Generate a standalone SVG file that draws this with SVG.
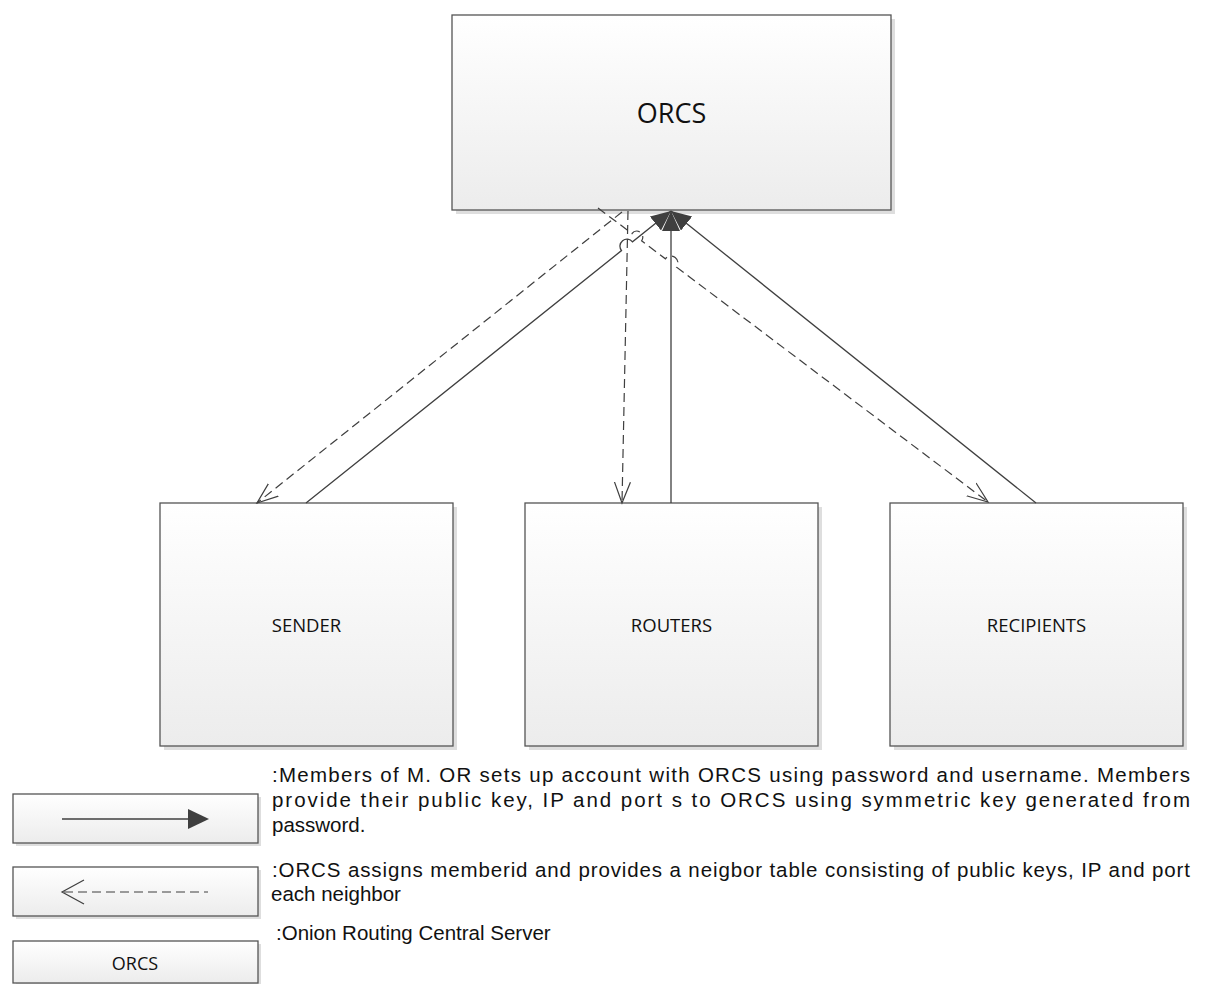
<svg xmlns="http://www.w3.org/2000/svg" width="1213" height="984" viewBox="0 0 1213 984">
<defs>
<linearGradient id="g" x1="0" y1="0" x2="0" y2="1">
<stop offset="0" stop-color="#ffffff"/>
<stop offset="1" stop-color="#ececec"/>
</linearGradient>
<marker id="fill" markerUnits="userSpaceOnUse" markerWidth="22" markerHeight="20" refX="20" refY="9" orient="auto">
<path d="M0,0 L20,9 L0,18 Z" fill="#3f3f3f"/>
</marker>
<marker id="open" markerUnits="userSpaceOnUse" markerWidth="24" markerHeight="20" refX="21" refY="9" orient="auto">
<path d="M0,1 L21,9 L0,17" fill="none" stroke="#3f3f3f" stroke-width="1.2"/>
</marker>
</defs>
<style>
.shadow{fill:#dedede}
.box{fill:url(#g);stroke:#555;stroke-width:1.3}
.lbl{font-family:"Open Sans","Liberation Sans",sans-serif;fill:#111;text-anchor:middle}
.txt{font-family:"Liberation Sans","Open Sans",sans-serif;fill:#111;font-size:20.5px}
.solid{fill:none;stroke:#3f3f3f;stroke-width:1.3}
.dash{fill:none;stroke:#3f3f3f;stroke-width:1.2;stroke-dasharray:9 5}
</style>
<rect width="1213" height="984" fill="#ffffff"/>

<g id="orcs">
<rect class="shadow" x="456" y="19" width="439" height="195"/>
<rect class="box" x="452" y="15" width="439" height="195"/>
<text class="lbl" x="671.5" y="123" font-size="27">ORCS</text>
</g>
<g id="sender">
<rect class="shadow" x="164" y="507" width="293" height="243"/>
<rect class="box" x="160" y="503" width="293" height="243"/>
<text class="lbl" x="306.5" y="632" font-size="18.5">SENDER</text>
</g>
<g id="routers">
<rect class="shadow" x="529" y="507" width="293" height="243"/>
<rect class="box" x="525" y="503" width="293" height="243"/>
<text class="lbl" x="671.5" y="632" font-size="18.5">ROUTERS</text>
</g>
<g id="recipients">
<rect class="shadow" x="894" y="507" width="293" height="243"/>
<rect class="box" x="890" y="503" width="293" height="243"/>
<text class="lbl" x="1036.5" y="632" font-size="18.5">RECIPIENTS</text>
</g>

<g id="connectors">
<path class="solid" d="M306,503 L621.5,250.6 A7,7 0 0 1 632.5,241.8 L671,211" marker-end="url(#fill)"/>
<path class="solid" d="M671,503 L671,211" marker-end="url(#fill)"/>
<path class="solid" d="M1036,503 L671,211" marker-end="url(#fill)"/>
<path class="dash" d="M622,212 L257,503" marker-end="url(#open)"/>
<path class="dash" d="M628,211 L622,503" marker-end="url(#open)"/>
<path class="dash" d="M598,208 L632,233.6 A6,6 0 0 1 641.6,240.8 L665.4,258.8 A7,7 0 0 1 676.6,267.2 L988,502" marker-end="url(#open)"/>
</g>

<g id="legend-solid">
<rect class="shadow" x="16" y="797" width="245" height="49"/>
<rect class="box" x="13" y="794" width="245" height="49"/>
<line class="solid" x1="62" y1="819" x2="190" y2="819"/>
<path d="M188,809 L209,819 L188,829 Z" fill="#3f3f3f"/>
</g>
<g id="legend-dash">
<rect class="shadow" x="16" y="870" width="245" height="49"/>
<rect class="box" x="13" y="867" width="245" height="49"/>
<line class="dash" x1="64" y1="892" x2="208" y2="892" stroke-dasharray="7 5"/>
<path d="M84,880 L62,892 L84,904" fill="none" stroke="#3f3f3f" stroke-width="1.2"/>
</g>
<g id="legend-orcs">
<rect class="shadow" x="16" y="944" width="245" height="42"/>
<rect class="box" x="13" y="941" width="245" height="42"/>
<text class="lbl" x="135" y="970" font-size="18">ORCS</text>
</g>

<g id="legend-text">
<text class="txt" x="272" y="782" textLength="918" lengthAdjust="spacing">:Members of M. OR sets up account with ORCS using password and username. Members</text>
<text class="txt" x="272" y="807" textLength="918" lengthAdjust="spacing">provide their public key, IP and port s to ORCS using symmetric key generated from</text>
<text class="txt" x="272" y="832">password.</text>
<text class="txt" x="272" y="877" textLength="918" lengthAdjust="spacing">:ORCS assigns memberid and provides a neigbor table consisting of public keys, IP and port</text>
<text class="txt" x="271" y="901">each neighbor</text>
<text class="txt" x="276" y="940">:Onion Routing Central Server</text>
</g>
</svg>
